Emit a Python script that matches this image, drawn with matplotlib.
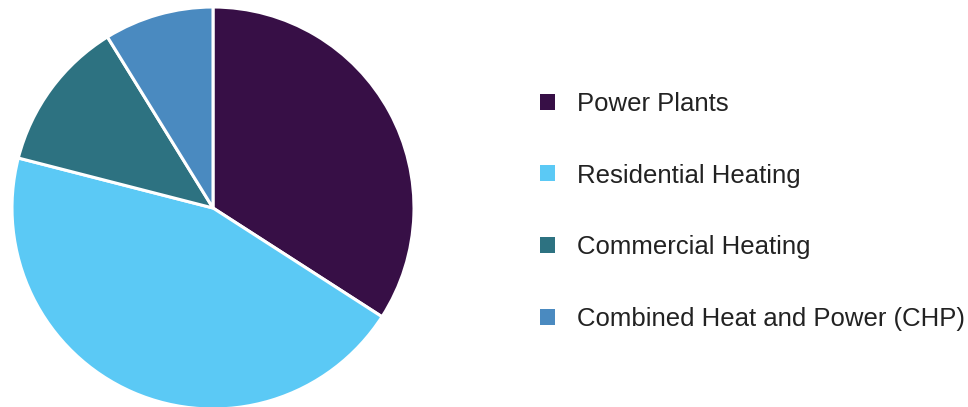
import matplotlib
matplotlib.use("Agg")
import matplotlib.pyplot as plt
from matplotlib.patches import Patch

categories = ["Power Plants", "Residential Heating", "Commercial Heating", "Combined Heat and Power (CHP)"]
values = [34.1, 44.9, 12.2, 8.8]
colors = ["#370F46", "#5BC9F5", "#2D7281", "#4A8AC0"]

W, H = 968, 407
fig = plt.figure(figsize=(W / 100, H / 100), dpi=100)
fig.patch.set_facecolor("white")

cx, cy, r = 213, 208, 201
ax = fig.add_axes([(cx - r) / W, (H - cy - r) / H, 2 * r / W, 2 * r / H])
ax.pie(values, colors=colors, startangle=90, counterclock=False, radius=1,
       wedgeprops=dict(edgecolor="white", linewidth=2.2))
ax.set_xlim(-1, 1)
ax.set_ylim(-1, 1)
ax.set_aspect("equal")
ax.axis("off")

handles = [Patch(facecolor=c, edgecolor="none") for c in colors]
leg = fig.legend(handles, categories, loc="upper left",
                 bbox_to_anchor=(540 / W, 1 - 92 / H), frameon=False,
                 prop={"family": "Liberation Sans", "size": 18.5},
                 handlelength=0.58, handleheight=0.58, handletextpad=0.86,
                 labelspacing=1.85, borderaxespad=0, borderpad=0)
for t in leg.get_texts():
    t.set_color("#222222")

fig.savefig("out.png", dpi=100, facecolor="white")
